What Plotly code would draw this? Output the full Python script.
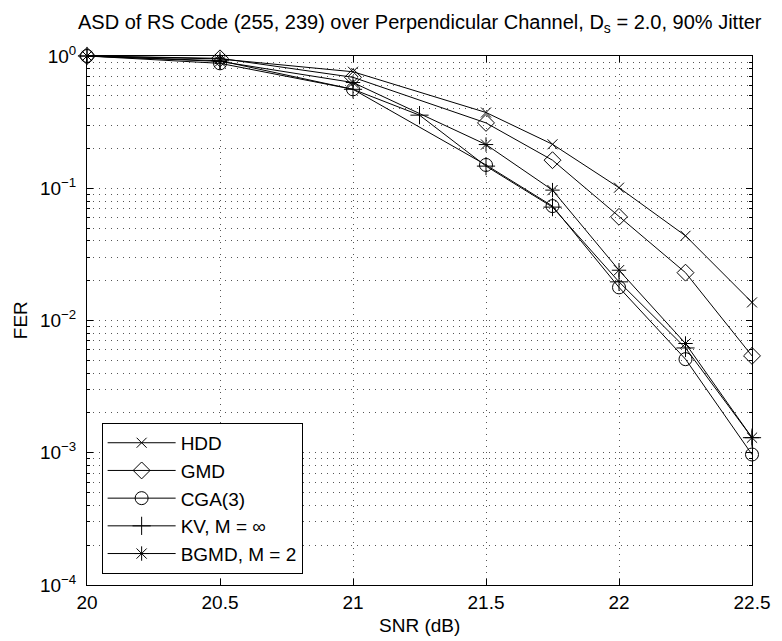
import plotly.graph_objects as go

snr = [20, 20.5, 21, 21.5, 21.75, 22, 22.25, 22.5]
snr_kv = [20, 20.5, 21, 21.25, 21.5, 21.75, 22, 22.25, 22.5]

fer_hdd = [1.0, 0.95, 0.76, 0.374, 0.215, 0.101, 0.0437, 0.0137]
fer_gmd = [1.0, 0.96, 0.69, 0.312, 0.163, 0.0608, 0.023, 0.0054]
fer_cga = [1.0, 0.88, 0.56, 0.150, 0.0733, 0.0178, 0.0051, 0.00097]
fer_kv = [1.0, 0.92, 0.56, 0.357, 0.147, 0.072, 0.0196, 0.0062, 0.0013]
fer_bgmd = [1.0, 0.91, 0.63, 0.214, 0.0968, 0.024, 0.0067, 0.0013]

names = ["HDD", "GMD", "CGA(3)", "KV, M = ∞", "BGMD, M = 2"]
symbols = ["x-thin-open", "diamond-open", "circle-open", "cross-thin-open", "asterisk-open"]
sizes = [10, 13, 13, 13, 12]
xs = [snr, snr, snr, snr_kv, snr]
ys = [fer_hdd, fer_gmd, fer_cga, fer_kv, fer_bgmd]

fig = go.Figure()
for n, s, sz, x, y in zip(names, symbols, sizes, xs, ys):
    fig.add_trace(go.Scatter(
        x=x, y=y, name=n, mode="lines+markers", cliponaxis=False,
        line=dict(color="black", width=1),
        marker=dict(symbol=s, size=sz, color="black", line=dict(color="black", width=1)),
    ))

font = "Liberation Sans, Arial, Helvetica, sans-serif"
ytickvals = [1, 0.1, 0.01, 0.001, 0.0001]
yticktext = ["10<sup>0</sup>", "10<sup>−1</sup>", "10<sup>−2</sup>", "10<sup>−3</sup>", "10<sup>−4</sup>"]
xtickvals = [20, 20.5, 21, 21.5, 22, 22.5]
xticktext = ["20", "20.5", "21", "21.5", "22", "22.5"]

gridc = "#555"
dash = "1px,5px"

fig.update_layout(
    width=782, height=641,
    margin=dict(l=87, r=23, t=56, b=56),
    paper_bgcolor="white", plot_bgcolor="white",
    font=dict(family=font, size=19, color="black"),
    showlegend=True,
    legend=dict(
        x=0.022, y=0.021, xanchor="left", yanchor="bottom",
        bordercolor="black", borderwidth=1, bgcolor="white",
        font=dict(size=19), itemwidth=68, tracegroupgap=0,
    ),
    xaxis=dict(
        range=[20, 22.5], tickvals=xtickvals, ticktext=xticktext,
        showline=True, linecolor="black", linewidth=1, mirror="ticks",
        ticks="inside", ticklen=6, tickcolor="black",
        showgrid=True, gridcolor=gridc, gridwidth=1, griddash=dash,
        zeroline=False, tickfont=dict(size=19),
    ),
    yaxis=dict(
        type="log", range=[-4, 0], tickvals=ytickvals, ticktext=yticktext,
        showline=True, linecolor="black", linewidth=1, mirror="ticks",
        ticks="inside", ticklen=6, tickcolor="black",
        showgrid=True, gridcolor=gridc, gridwidth=1, griddash=dash,
        zeroline=False, tickfont=dict(size=19), ticklabelstandoff=6,
        minor=dict(dtick="D1", ticks="inside", ticklen=3, tickcolor="black",
                   showgrid=True, gridcolor=gridc, griddash=dash, gridwidth=1),
    ),
    annotations=[
        dict(text="ASD of RS Code (255, 239) over Perpendicular Channel, D<sub>s</sub> = 2.0, 90% Jitter",
             x=0.5, y=1 + (56 - 23) / 529, xref="paper", yref="paper", showarrow=False,
             xanchor="center", yanchor="middle", font=dict(size=20)),
        dict(text="SNR (dB)", x=0.5, y=-(625 - 585) / 529, xref="paper", yref="paper",
             showarrow=False, xanchor="center", yanchor="middle", font=dict(size=19)),
        dict(text="FER", x=-(87 - 20) / 672, y=0.5, xref="paper", yref="paper", textangle=-90,
             showarrow=False, xanchor="center", yanchor="middle", font=dict(size=19)),
    ],
)
fig.write_html("out.html")
